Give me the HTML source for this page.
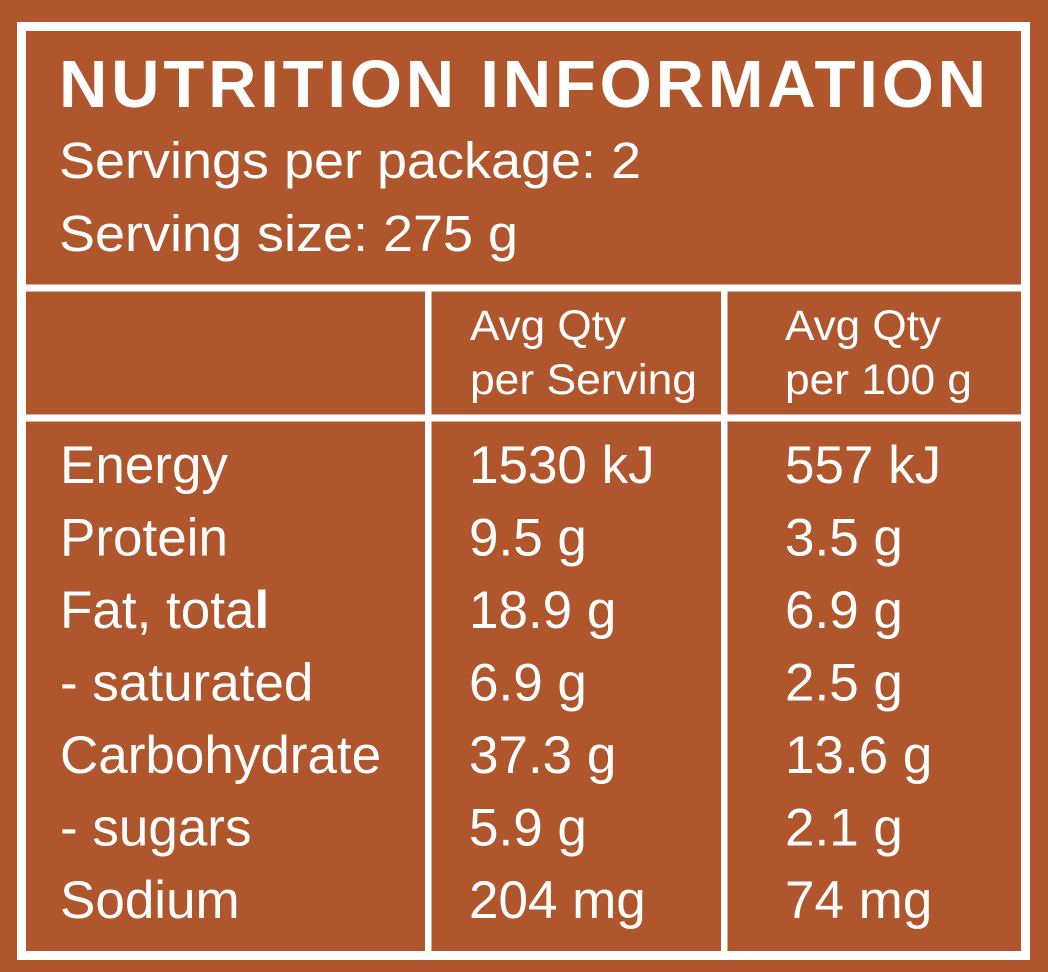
<!DOCTYPE html>
<html>
<head>
<meta charset="utf-8">
<style>
  html,body{margin:0;padding:0;background:#B0562D;}
  svg{display:block;}
  text{font-family:"Liberation Sans", Arial, sans-serif; fill:#ffffff;}
</style>
</head>
<body>
<svg width="1048" height="972" viewBox="0 0 1048 972" xmlns="http://www.w3.org/2000/svg">
  <rect x="0" y="0" width="1048" height="972" fill="#B0562D"/>
  <!-- outer frame -->
  <rect x="17" y="22" width="1013" height="938" fill="#ffffff"/>
  <rect x="26" y="31" width="995" height="920" fill="#B0562D"/>
  <!-- separators -->
  <rect x="26" y="284.5" width="995" height="7" fill="#ffffff"/>
  <rect x="26" y="414.5" width="995" height="7" fill="#ffffff"/>
  <rect x="425" y="291" width="6.5" height="660" fill="#ffffff"/>
  <rect x="721" y="291" width="6.5" height="660" fill="#ffffff"/>

  <!-- header -->
  <text x="59" y="107" font-size="67" font-weight="bold" textLength="927" lengthAdjust="spacing">NUTRITION INFORMATION</text>
  <text x="59" y="178" font-size="51" textLength="582" lengthAdjust="spacingAndGlyphs">Servings per package: 2</text>
  <text x="59" y="251" font-size="51" textLength="459" lengthAdjust="spacingAndGlyphs">Serving size: 275 g</text>

  <!-- column headers -->
  <text x="470" y="340" font-size="43" textLength="156" lengthAdjust="spacingAndGlyphs">Avg Qty</text>
  <text x="470" y="394" font-size="43" textLength="227" lengthAdjust="spacingAndGlyphs">per Serving</text>
  <text x="785" y="340" font-size="43" textLength="156" lengthAdjust="spacingAndGlyphs">Avg Qty</text>
  <text x="785" y="394" font-size="43" textLength="187" lengthAdjust="spacingAndGlyphs">per 100 g</text>

  <!-- labels -->
  <g font-size="53">
    <text x="60" y="483">Energy</text>
    <text x="60" y="555.5">Protein</text>
    <text x="60" y="628">Fat, tota<tspan font-weight="bold">l</tspan></text>
    <text x="60" y="700.5">- saturated</text>
    <text x="60" y="773">Carbohydrate</text>
    <text x="60" y="845.5">- sugars</text>
    <text x="60" y="918">Sodium</text>

    <text x="469" y="483">1530 kJ</text>
    <text x="469" y="555.5">9.5 g</text>
    <text x="469" y="628">18.9 g</text>
    <text x="469" y="700.5">6.9 g</text>
    <text x="469" y="773">37.3 g</text>
    <text x="469" y="845.5">5.9 g</text>
    <text x="469" y="918">204 mg</text>

    <text x="785" y="483">557 kJ</text>
    <text x="785" y="555.5">3.5 g</text>
    <text x="785" y="628">6.9 g</text>
    <text x="785" y="700.5">2.5 g</text>
    <text x="785" y="773">13.6 g</text>
    <text x="785" y="845.5">2.1 g</text>
    <text x="785" y="918">74 mg</text>
  </g>
</svg>
</body>
</html>
